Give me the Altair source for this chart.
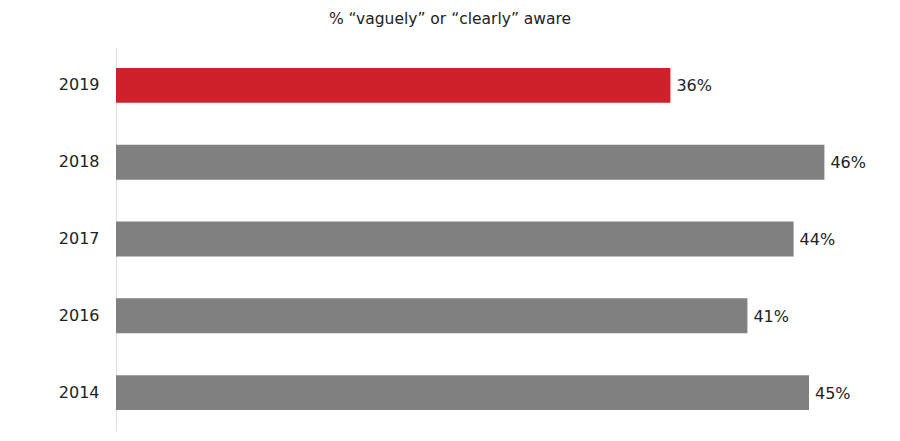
import altair as alt
import pandas as pd

years = ["2019", "2018", "2017", "2016", "2014"]
values = [36, 46, 44, 41, 45]
labels = ["36%", "46%", "44%", "41%", "45%"]
highlight = ["yes", "no", "no", "no", "no"]

df = pd.DataFrame({"year": years, "value": values, "label": labels, "hl": highlight})

FONT = "DejaVu Sans"
FS = 16

y = alt.Y("year:N", sort=years, title=None,
          scale=alt.Scale(paddingInner=0.545, paddingOuter=0.2725),
          axis=alt.Axis(domainColor="#dddddd", domainWidth=1, ticks=False,
                        labelFont=FONT, labelFontSize=FS, labelColor="#222222",
                        labelPadding=17, grid=False))
x = alt.X("value:Q", scale=alt.Scale(domain=[0, 50]), axis=None)

bars = alt.Chart(df).mark_bar().encode(
    x=x, y=y,
    color=alt.Color("hl:N", scale=alt.Scale(domain=["yes", "no"], range=["#cf212b", "#808080"]), legend=None),
)
text = alt.Chart(df).mark_text(align="left", baseline="middle", dx=6, dy=1, font=FONT,
                               fontSize=FS, color="#222222").encode(
    x=x, y=y, text="label:N")

chart = (bars + text).properties(
    width=770, height=384,
    title=alt.TitleParams("% “vaguely” or “clearly” aware", font=FONT, fontSize=15.5,
                          fontWeight="normal", color="#222222", anchor="middle",
                          dx=-51, offset=20),
    autosize=alt.AutoSizeParams(type="none"),
    padding={"left": 108, "top": 39, "right": 5, "bottom": 5},
).configure_view(stroke=None)

chart.save("out.html", embed_options={"renderer": "svg", "actions": False})
